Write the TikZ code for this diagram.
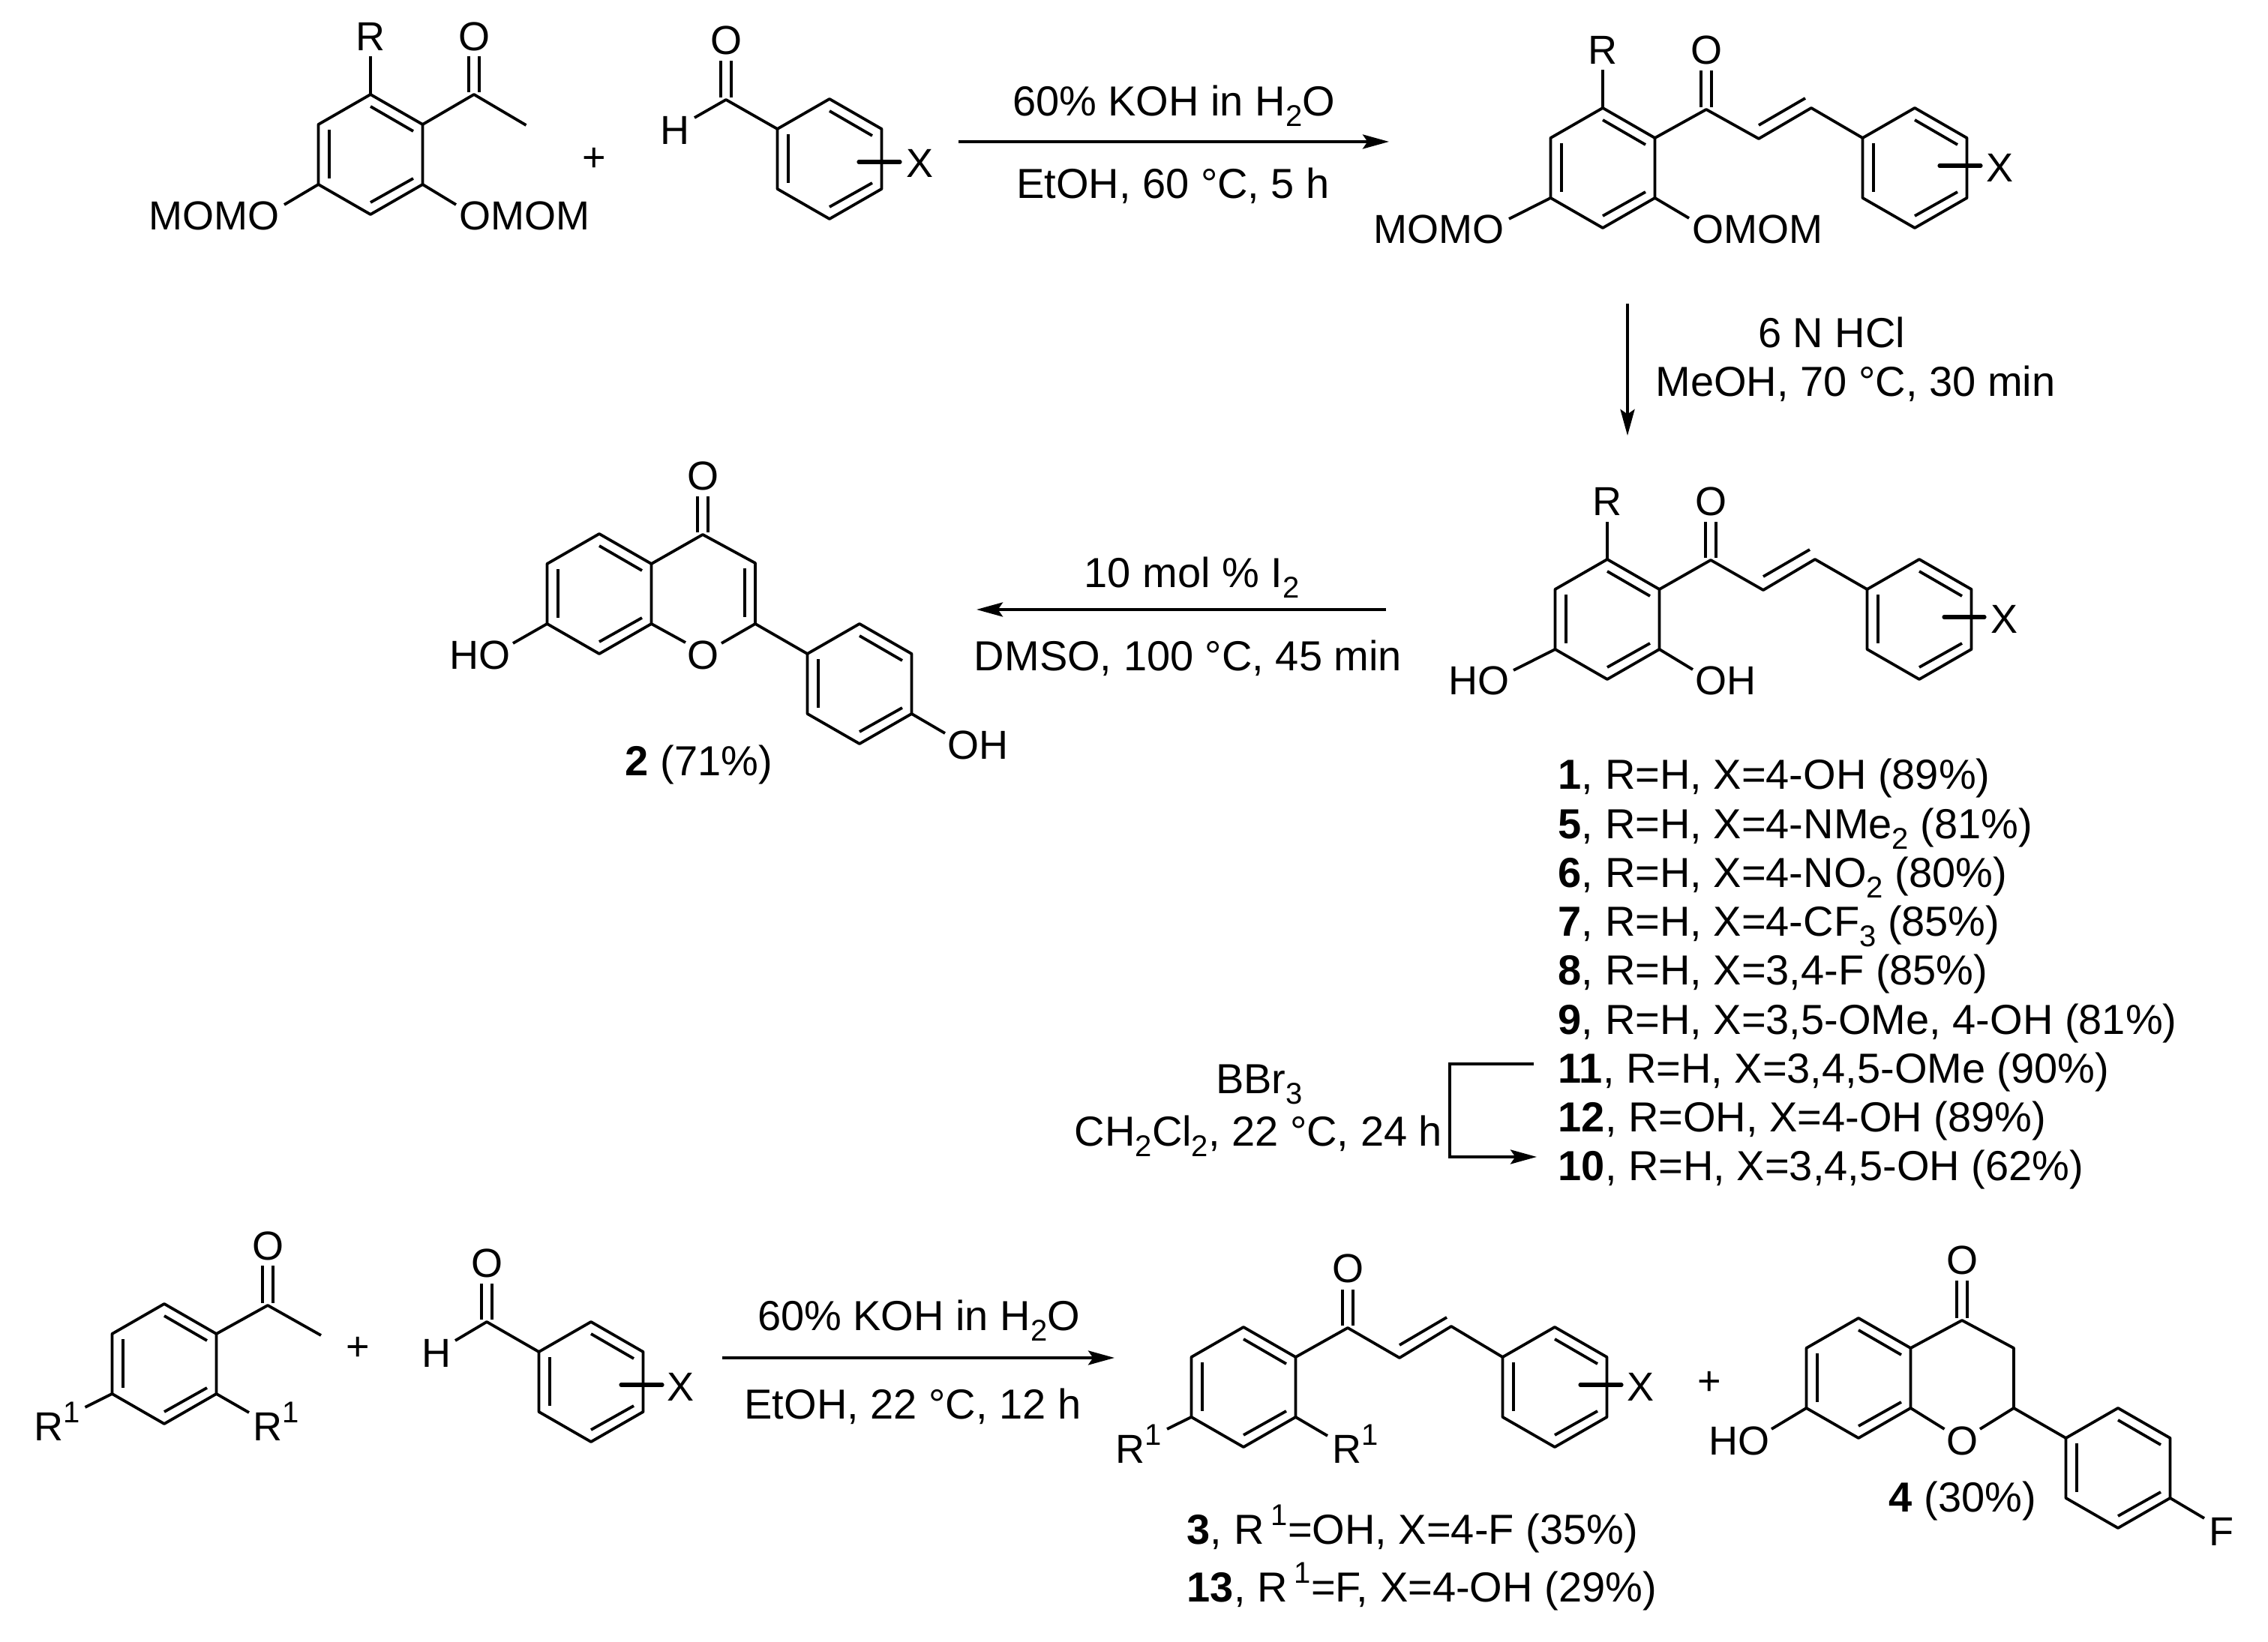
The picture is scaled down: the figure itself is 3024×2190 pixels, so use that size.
\documentclass[tikz,border=0pt]{standalone}
\usepackage{fontspec}
\setmainfont{Liberation Sans}
\usetikzlibrary{arrows.meta}

\newcommand{\sbs}[1]{\raisebox{-0.24em}{\fontsize{10}{10}\selectfont #1}}
\newcommand{\spr}[1]{\raisebox{0.46em}{\fontsize{10}{10}\selectfont #1}}

% ring with its six corners named, inner lines left, upper right, lower right
\newcommand{\arene}[3]{
\coordinate (#1t) at (#2,#3-80);
\coordinate (#1ur) at (#2+69.5,#3-40);
\coordinate (#1lr) at (#2+69.5,#3+40);
\coordinate (#1b) at (#2,#3+80);
\coordinate (#1ll) at (#2-69.5,#3+40);
\coordinate (#1ul) at (#2-69.5,#3-40);
\draw[bond] (#1t) -- (#1ur) -- (#1lr) -- (#1b) -- (#1ll) -- (#1ul) -- cycle;
\draw[bond] (#2-55,#3-33) -- (#2-55,#3+32);
\draw[bond] (#2,#3-64) -- (#2+57,#3-31);
\draw[bond] (#2,#3+64) -- (#2+57,#3+32);
}
% C=O, two lines going up from the carbon
\newcommand{\carbonyl}[3]{
\draw[bond] (#1-7,#2-3) -- (#1-7,#3);
\draw[bond] (#1+7,#2-3) -- (#1+7,#3);
}

\tikzset{
  bond/.style={line width=0.95pt,line join=round},
  xbar/.style={line width=1.3pt,line cap=round},
  rxn/.style={line width=1pt,-{Stealth[length=8.75pt,width=4.75pt,inset=1.6pt]}},
  atom/.style={anchor=base,inner sep=0pt,font=\fontsize{13.5}{16}\selectfont},
  cond/.style={anchor=base,inner sep=0pt,font=\fontsize{14}{16}\selectfont},
  entry/.style={anchor=base west,inner sep=0pt,font=\fontsize{14}{16}\selectfont}
}

\begin{document}
\begin{tikzpicture}[x=0.25pt,y=-0.25pt]
\useasboundingbox (0,0) rectangle (3024,2190);

% top left one
\arene{a}{494}{206}
\coordinate (aco) at (632,126);
\draw[bond] (aur) -- (aco) -- (701.5,167);
\carbonyl{632}{126}{75}
\draw[bond] (at) -- (494,75);
\draw[bond] (all) -- (379,273);
\draw[bond] (alr) -- (608,273);
\node[atom] (aR) at (494,68) {R};
\node[atom] (aO) at (632,68) {O};
\node[atom] (aMOMO) at (285.5,307) {MOMO};
\node[atom] (aOMOM) at (699,307) {OMOM};
\node[atom] (plusa) at (792,229) {+};

% top aldehyde
\arene{d}{1106}{212}
\coordinate (dco) at (968,133);
\draw[bond] (dul) -- (dco) -- (926,157);
\carbonyl{968}{133}{81}
\draw[bond,xbar] (1145,216) -- (1200,216);
\node[atom] (dO) at (968,73) {O};
\node[atom] (dH) at (900,193) {H};
\node[atom] (dX) at (1227,237) {X};

% first arrow
\coordinate (ra1) at (1278,189);
\coordinate (ra2) at (1852,189);
\draw[rxn] (ra1) -- (ra2);
\node[cond] (raup) at (1565,155) {60\% KOH in H\sbs{2}O};
\node[cond] (radn) at (1564,265) {EtOH, 60 °C, 5 h};

% top right one
\arene{b}{2137}{224}
\arene{e}{2553}{224}
\coordinate (bco) at (2275,146);
\coordinate (bc1) at (2345,185);
\coordinate (bc2) at (2415,144);
\draw[bond] (bur) -- (bco) -- (bc1) -- (bc2) -- (eul);
\draw[bond] (2345,167) -- (2407,131);
\carbonyl{2275}{146}{94}
\draw[bond] (bt) -- (2137,93);
\draw[bond] (bll) -- (2012,292);
\draw[bond] (blr) -- (2252,291);
\draw[bond,xbar] (2586,221) -- (2641,221);
\node[atom] (bR) at (2137,86) {R};
\node[atom] (bO) at (2275,86) {O};
\node[atom] (bMOMO) at (1918.5,325) {MOMO};
\node[atom] (bOMOM) at (2343,325) {OMOM};
\node[atom] (eX) at (2666,243) {X};

% second arrow
\coordinate (rb1) at (2170,405);
\coordinate (rb2) at (2170,581);
\draw[rxn] (rb1) -- (rb2);
\node[cond] (rbup) at (2442,464) {6 N HCl};
\node[cond] (rbdn) at (2474,529) {MeOH, 70 °C, 30 min};

% middle right one
\arene{c}{2143}{826}
\arene{f}{2559}{826}
\coordinate (cco) at (2281,747);
\coordinate (cc1) at (2351,787);
\coordinate (cc2) at (2420,746);
\draw[bond] (cur) -- (cco) -- (cc1) -- (cc2) -- (ful);
\draw[bond] (2351,769) -- (2413,733);
\carbonyl{2281}{747}{696}
\draw[bond] (ct) -- (2143,696);
\draw[bond] (cll) -- (2018,894);
\draw[bond] (clr) -- (2257,893);
\draw[bond,xbar] (2592,823) -- (2646,823);
\node[atom] (cR) at (2143,688) {R};
\node[atom] (cO) at (2281,688) {O};
\node[atom] (cHO) at (1972,927) {HO};
\node[atom] (cOH) at (2301,927) {OH};
\node[atom] (fX) at (2672,845) {X};

% third arrow
\coordinate (rc1) at (1848,813);
\coordinate (rc2) at (1302,813);
\draw[rxn] (rc1) -- (rc2);
\node[cond] (rcup) at (1589,784) {10 mol \% I\sbs{2}};
\node[cond] (rcdn) at (1584,895) {DMSO, 100 °C, 45 min};

% flavone
\arene{g}{799}{792}
\arene{h}{1146}{912}
\coordinate (gc4) at (937,713);
\coordinate (gc3) at (1007,751);
\coordinate (gc2) at (1007,832);
\draw[bond] (gur) -- (gc4) -- (gc3) -- (gc2) -- (962,858);
\draw[bond] (glr) -- (914,857);
\draw[bond] (gc2) -- (hul);
\draw[bond] (993,758) -- (993,823);
\carbonyl{937}{713}{662}
\draw[bond] (gll) -- (684,858);
\draw[bond] (hlr) -- (1260,978);
\node[atom] (gO) at (937,654) {O};
\node[atom] (gHO) at (640,893) {HO};
\node[atom] (gO1) at (937,893) {O};
\node[atom] (hOH) at (1304,1013) {OH};
\node[cond] (two) at (932,1035) {\textbf{2} (71\%)};

% list of products
\node[entry] (c1) at (2077,1053) {\textbf{1}, R=H, X=4-OH (89\%)};
\node[entry] (c5) at (2077,1119) {\textbf{5}, R=H, X=4-NMe\sbs{2} (81\%)};
\node[entry] (c6) at (2077,1184) {\textbf{6}, R=H, X=4-NO\sbs{2} (80\%)};
\node[entry] (c7) at (2077,1249) {\textbf{7}, R=H, X=4-CF\sbs{3} (85\%)};
\node[entry] (c8) at (2077,1314) {\textbf{8}, R=H, X=3,4-F (85\%)};
\node[entry] (c9) at (2077,1380) {\textbf{9}, R=H, X=3,5-OMe, 4-OH (81\%)};
\node[entry] (c11) at (2077,1445) {\textbf{11}, R=H, X=3,4,5-OMe (90\%)};
\node[entry] (c12) at (2077,1510) {\textbf{12}, R=OH, X=4-OH (89\%)};
\node[entry] (c10) at (2077,1575) {\textbf{10}, R=H, X=3,4,5-OH (62\%)};

% BBr3 elbow
\coordinate (rd1) at (2045,1419);
\coordinate (rd2) at (1933,1419);
\coordinate (rd3) at (1933,1543);
\coordinate (rd4) at (2049,1543);
\draw[rxn,line join=miter] (rd1) -- (rd2) -- (rd3) -- (rd4);
\node[cond] (rdup) at (1679,1459) {BBr\sbs{3}};
\node[cond] (rddn) at (1678,1529) {CH\sbs{2}Cl\sbs{2}, 22 °C, 24 h};

% bottom left one
\arene{j}{219}{1819}
\coordinate (jco) at (357,1741);
\draw[bond] (jur) -- (jco) -- (428,1781);
\carbonyl{357}{1741}{1688}
\draw[bond] (jll) -- (113.5,1877);
\draw[bond] (jlr) -- (332,1884);
\node[atom] (jO) at (357,1681) {O};
\node[atom] (jRa) at (76,1922) {R\spr{1}};
\node[atom] (jRb) at (368,1922) {R\spr{1}};
\node[atom] (plusj) at (477,1815) {+};

% bottom aldehyde
\arene{k}{788}{1843}
\coordinate (kco) at (649,1763);
\draw[bond] (kul) -- (kco) -- (607,1788);
\carbonyl{649}{1763}{1712}
\draw[bond,xbar] (828,1847) -- (883,1847);
\node[atom] (kO) at (649,1704) {O};
\node[atom] (kH) at (582,1824) {H};
\node[atom] (kX) at (908,1869) {X};

% fourth arrow
\coordinate (re1) at (963,1811);
\coordinate (re2) at (1486,1811);
\draw[rxn] (re1) -- (re2);
\node[cond] (reup) at (1225,1775) {60\% KOH in H\sbs{2}O};
\node[cond] (redn) at (1217,1893) {EtOH, 22 °C, 12 h};

% bottom chalcone
\arene{m}{1658}{1850}
\arene{n}{2073}{1850}
\coordinate (mco) at (1797,1771);
\coordinate (mc1) at (1866,1811);
\coordinate (mc2) at (1935,1769);
\draw[bond] (mur) -- (mco) -- (mc1) -- (mc2) -- (nul);
\draw[bond] (1866,1794) -- (1929,1757);
\carbonyl{1797}{1771}{1720}
\draw[bond] (mll) -- (1556,1906);
\draw[bond] (mlr) -- (1770,1915);
\draw[bond,xbar] (2107,1847) -- (2162,1847);
\node[atom] (mO) at (1797,1711) {O};
\node[atom] (mRa) at (1518,1952) {R\spr{1}};
\node[atom] (mRb) at (1807,1952) {R\spr{1}};
\node[atom] (nX) at (2187,1869) {X};
\node[entry] (c3) at (1582,2060) {\textbf{3}, R\,\spr{1}=OH, X=4-F (35\%)};
\node[entry] (c13) at (1582,2137) {\textbf{13}, R\,\spr{1}=F, X=4-OH (29\%)};

% flavanone
\arene{p}{2478}{1838}
\arene{q}{2824}{1958}
\coordinate (pc4) at (2616,1761);
\coordinate (pc3) at (2685,1798);
\coordinate (pc2) at (2685,1878);
\draw[bond] (pur) -- (pc4) -- (pc3) -- (pc2) -- (2640,1906);
\draw[bond] (plr) -- (2592.5,1906);
\draw[bond] (pc2) -- (qul);
\carbonyl{2616}{1761}{1708}
\draw[bond] (pll) -- (2362,1906);
\draw[bond] (qlr) -- (2939,2025);
\node[atom] (plusp) at (2279,1861) {+};
\node[atom] (pO) at (2616,1700) {O};
\node[atom] (pHO) at (2319,1941) {HO};
\node[atom] (pO1) at (2616,1941) {O};
\node[atom] (qF) at (2962,2062) {F};
\node[cond] (four) at (2617,2017) {\textbf{4} (30\%)};

\end{tikzpicture}
\end{document}
